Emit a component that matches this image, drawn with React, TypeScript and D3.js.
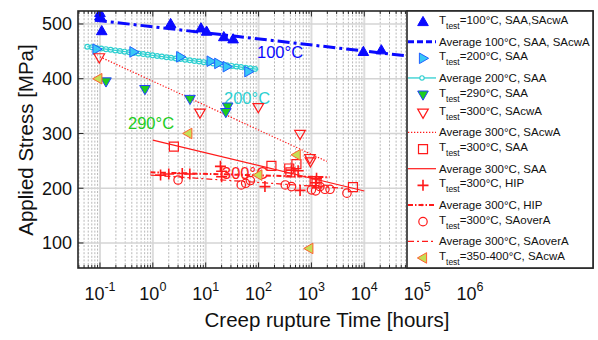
import React from 'react';
import * as d3 from 'd3';

const W = 598, H = 340;
const L = 78, R = 593, T = 11, B = 268;

// 100°C SAA, SAcwA
const t100 = [0.1, 0.1, 0.108, 2.17, 8.15, 10.4, 22, 33, 9600, 21000];
const s100 = [520, 514, 487, 500, 492, 486, 476, 472, 449, 452];
// 200°C SAA
const t200 = [0.086, 0.43, 3.3, 12.4, 17.3, 25, 64];
const s200 = [454, 449, 440, 432, 428, 422, 413];
// 290°C SAA
const t290 = [0.13, 0.71, 5.05, 26, 24];
const s290 = [395, 381, 363, 349, 339];
// 300°C SAcwA
const t300cw = [0.097, 7.8, 99, 608, 935, 960];
const s300cw = [439, 338, 348, 299, 255, 249];
// 300°C SAA
const t300saa = [2.5, 175, 380, 400, 520, 1150, 1250, 6100];
const s300saa = [276, 241, 236, 229, 244, 213, 209, 202];
// 300°C HIP
const t300hip = [1.4, 2.0, 3.6, 5, 19, 20, 20, 132, 420, 560, 610, 1250, 1200];
const s300hip = [224, 226, 227, 226, 240, 231, 221, 203, 233, 232, 196, 218, 210];
// 300°C SAoverA
const t300ov = [3.0, 47, 57, 70, 320, 420, 1000, 1200, 1450, 1800, 2250, 4700];
const s300ov = [215, 206, 209, 214, 206, 203, 197, 195, 203, 198, 198, 191];
// 350-400°C SAcwA
const t350 = [0.093, 4.68, 99, 525, 912];
const s350 = [400, 300, 224, 261, 90];

// average (fit) lines: endpoints
const avg100T = [0.08, 1e5], avg100S = [507, 439.5];
const avg200T = [0.0575, 99], avg200S = [458.5, 417];
const avgCwT = [0.1, 1950], avgCwS = [440, 249];
const avgSaaT = [1, 1e4], avgSaaS = [288, 195];
const avgHipT = [0.9, 2200], avgHipS = [229, 220];
const avgOvT = [0.9, 4000], avgOvS = [224, 200];

const yTicks = [100, 200, 300, 400, 500];
const xDecades = [-1, 0, 1, 2, 3, 4, 5, 6];

const legendLabels = [
  { kind: 'T', text: '=100°C, SAA,SAcwA' },
  { kind: 'A', text: 'Average 100°C, SAA, SAcwA' },
  { kind: 'T', text: '=200°C, SAA' },
  { kind: 'A', text: 'Average 200°C, SAA' },
  { kind: 'T', text: '=290°C, SAA' },
  { kind: 'T', text: '=300°C, SAcwA' },
  { kind: 'A', text: 'Average 300°C, SAcwA' },
  { kind: 'T', text: '=300°C, SAA' },
  { kind: 'A', text: 'Average 300°C, SAA' },
  { kind: 'T', text: '=300°C, HIP' },
  { kind: 'A', text: 'Average 300°C, HIP' },
  { kind: 'T', text: '=300°C, SAoverA' },
  { kind: 'A', text: 'Average 300°C, SAoverA' },
  { kind: 'T', text: '=350-400°C, SAcwA' },
];

const FONT = 'Liberation Sans, Arial, Helvetica, sans-serif';
const RED = '#ff1a1a';
const BLUE = '#0a0aff';
const CYAN = '#2ecfd0';

const x = d3.scaleLog().domain([0.0384, 2.12e8]).range([L, R]);
const y = d3.scaleLinear().domain([54.3, 523.7]).range([B, T]);

const triUp = 'M0,-5.6L5.3,3.6L-5.3,3.6Z';
const triDown = 'M0,5.6L5.3,-3.6L-5.3,-3.6Z';
const triRight = 'M5.6,0L-3.6,-5.3L-3.6,5.3Z';
const triLeft = 'M-5.6,0L3.6,-5.3L3.6,5.3Z';
const plusP = 'M-5.5,0H5.5M0,-5.5V5.5';
const squareP = 'M-4.5,-4.5H4.5V4.5H-4.5Z';

type MarkerStyle = { d?: string; circle?: number; fill: string; stroke: string; sw: number };
const styles: Record<string, MarkerStyle> = {
  m100: { d: triUp, fill: BLUE, stroke: BLUE, sw: 1 },
  m200: { d: triRight, fill: '#38c8f5', stroke: '#2060ff', sw: 1 },
  m290: { d: triDown, fill: '#1fcc1f', stroke: '#2040ff', sw: 1 },
  mCw: { d: triDown, fill: 'none', stroke: RED, sw: 1.2 },
  mSaa: { d: squareP, fill: 'none', stroke: RED, sw: 1.2 },
  mHip: { d: plusP, fill: 'none', stroke: RED, sw: 1.6 },
  mOv: { circle: 4.2, fill: 'none', stroke: RED, sw: 1.2 },
  m350: { d: triLeft, fill: '#c5de55', stroke: '#ff6030', sw: 1 },
};

function Marker({ cx, cy, st }: { cx: number; cy: number; st: MarkerStyle }) {
  if (st.circle) return <circle cx={cx} cy={cy} r={st.circle} fill={st.fill} stroke={st.stroke} strokeWidth={st.sw} />;
  return <path d={st.d} transform={`translate(${cx},${cy})`} fill={st.fill} stroke={st.stroke} strokeWidth={st.sw} />;
}

function Points({ ts, ss, st }: { ts: number[]; ss: number[]; st: MarkerStyle }) {
  return <g>{ts.map((t, i) => <Marker key={i} cx={x(t)} cy={y(ss[i])} st={st} />)}</g>;
}

const lineGen = d3.line<[number, number]>().x(d => x(d[0])).y(d => y(d[1]));
const mk = (ts: number[], ss: number[]) => lineGen(ts.map((t, i) => [t, ss[i]] as [number, number])) || '';

type LineStyle = { stroke: string; sw: number; dash?: string };
const lineStyles: Record<string, LineStyle> = {
  l100: { stroke: BLUE, sw: 3, dash: '12,4,3,4' },
  l200: { stroke: CYAN, sw: 1.3 },
  lCw: { stroke: RED, sw: 1.2, dash: '1.3,1.7' },
  lSaa: { stroke: RED, sw: 1.2 },
  lHip: { stroke: RED, sw: 2, dash: '5,2,1.5,2' },
  lOv: { stroke: RED, sw: 1.2, dash: '6,3,2,3' },
};

function CircleLine({ d, lw }: { d: string; lw: number }) {
  // line with small open-circle markers along it
  return (
    <g fill="none">
      <path d={d} stroke={CYAN} strokeWidth={6} strokeDasharray="0,4.7" strokeLinecap="round" />
      <path d={d} stroke="#ffffff" strokeWidth={3.6} strokeDasharray="0,4.7" strokeLinecap="round" />
      <path d={d} stroke={CYAN} strokeWidth={lw} />
    </g>
  );
}

export default function App() {
  const [d0, d1] = x.domain();
  const minor: number[] = [];
  const major: number[] = [];
  for (let n = -2; n <= 9; n++) {
    const p = Math.pow(10, n);
    if (p >= d0 && p <= d1) major.push(p);
    for (let k = 2; k <= 9; k++) {
      const v = k * p;
      if (v >= d0 && v <= d1) minor.push(v);
    }
  }

  const legendX = 407;
  const rowY = (i: number) => 22 + 18.15 * i;
  const legendMarkers = ['m100', null, 'm200', null, 'm290', 'mCw', null, 'mSaa', null, 'mHip', null, 'mOv', null, 'm350'];
  const legendLines = [null, 'l100', null, 'l200', null, null, 'lCw', null, 'lSaa', null, 'lHip', null, 'lOv', null];

  return (
    <svg width={W} height={H} style={{ position: 'absolute', left: 0, top: 0, background: '#fff' }} fontFamily={FONT}>
      <defs>
        <clipPath id="plotclip">
          <rect x={L} y={T} width={R - L} height={B - T} />
        </clipPath>
      </defs>
      <rect x={0} y={0} width={W} height={H} fill="#fff" />
      {/* grid */}
      <g>
        {minor.map((v, i) => (
          <line key={'mg' + i} x1={x(v)} x2={x(v)} y1={T} y2={B} stroke="#b8b8b8" strokeWidth={1} strokeDasharray="2,1.6" />
        ))}
        {major.map((v, i) => (
          <line key={'Mg' + i} x1={x(v)} x2={x(v)} y1={T} y2={B} stroke="#dcdcdc" strokeWidth={2} />
        ))}
        {yTicks.map(v => (
          <line key={'hg' + v} x1={L} x2={R} y1={y(v)} y2={y(v)} stroke="#d4d4d4" strokeWidth={1.6} />
        ))}
      </g>
      {/* labels in plot */}
      <g fontSize={16.5}>
        <text x={257} y={58} fill={BLUE}>100°C</text>
        <text x={224} y={104} fill={CYAN}>200°C</text>
        <text x={128} y={129} fill="#22cc22">290°C</text>
        <text x={222} y={179} fill={RED}>300°C</text>
      </g>
      {/* fit lines */}
      <g clipPath="url(#plotclip)" fill="none">
        <path d={mk(avg100T, avg100S)} stroke={lineStyles.l100.stroke} strokeWidth={lineStyles.l100.sw} strokeDasharray={lineStyles.l100.dash} />
        <CircleLine d={mk(avg200T, avg200S)} lw={lineStyles.l200.sw} />
        <path d={mk(avgCwT, avgCwS)} stroke={RED} strokeWidth={lineStyles.lCw.sw} strokeDasharray={lineStyles.lCw.dash} />
        <path d={mk(avgSaaT, avgSaaS)} stroke={RED} strokeWidth={lineStyles.lSaa.sw} />
        <path d={mk(avgHipT, avgHipS)} stroke={RED} strokeWidth={lineStyles.lHip.sw} strokeDasharray={lineStyles.lHip.dash} />
        <path d={mk(avgOvT, avgOvS)} stroke={RED} strokeWidth={lineStyles.lOv.sw} strokeDasharray={lineStyles.lOv.dash} />
      </g>
      {/* markers */}
      <g clipPath="url(#plotclip)">
        <Points ts={t100} ss={s100} st={styles.m100} />
        <Points ts={t200} ss={s200} st={styles.m200} />
        <Points ts={t290} ss={s290} st={styles.m290} />
        <Points ts={t300cw} ss={s300cw} st={styles.mCw} />
        <Points ts={t300saa} ss={s300saa} st={styles.mSaa} />
        <Points ts={t300hip} ss={s300hip} st={styles.mHip} />
        <Points ts={t300ov} ss={s300ov} st={styles.mOv} />
        <Points ts={t350} ss={s350} st={styles.m350} />
      </g>
      {/* ticks */}
      <g stroke="#262626" strokeWidth={1}>
        {minor.map((v, i) => (
          <g key={'mt' + i}>
            <line x1={x(v)} x2={x(v)} y1={B} y2={B - 3} />
            <line x1={x(v)} x2={x(v)} y1={T} y2={T + 3} />
          </g>
        ))}
        {major.map((v, i) => (
          <g key={'Mt' + i}>
            <line x1={x(v)} x2={x(v)} y1={B} y2={B - 5.5} />
            <line x1={x(v)} x2={x(v)} y1={T} y2={T + 5.5} />
          </g>
        ))}
        {yTicks.map(v => (
          <line key={'yt' + v} x1={L} x2={L + 5.5} y1={y(v)} y2={y(v)} />
        ))}
      </g>
      <rect x={L} y={T} width={R - L} height={B - T} fill="none" stroke="#262626" strokeWidth={1.6} />
      {/* tick labels */}
      <g fontSize={18} fill="#111">
        {yTicks.map(v => (
          <text key={'yl' + v} x={72} y={y(v) + 6.5} textAnchor="end">{v}</text>
        ))}
        {xDecades.map(n => (
          <text key={'xl' + n} x={x(Math.pow(10, n))} y={300} textAnchor="middle">
            10<tspan fontSize={12.5} dy={-9}>{n}</tspan>
          </text>
        ))}
      </g>
      {/* axis labels */}
      <text x={(L + 470) / 2 + 53} y={327} textAnchor="middle" fontSize={20.5} fill="#111">Creep rupture Time [hours]</text>
      <text transform={`translate(33,140) rotate(-90)`} textAnchor="middle" fontSize={20.5} fill="#111">Applied Stress [MPa]</text>
      {/* legend */}
      <g>
        <rect x={legendX} y={T} width={R - legendX} height={B - T} fill="#fff" stroke="#262626" strokeWidth={1.6} />
        {legendLabels.map((lab, i) => {
          const r = rowY(i);
          const mkey = legendMarkers[i];
          const lkey = legendLines[i];
          return (
            <g key={'lg' + i}>
              {mkey && <Marker cx={423} cy={r} st={styles[mkey]} />}
              {lkey && lkey !== 'l200' && (
                <line x1={408} x2={436} y1={r + 1.5} y2={r + 1.5} stroke={lineStyles[lkey].stroke}
                  strokeWidth={lkey === 'l100' ? 3 : lineStyles[lkey].sw}
                  strokeDasharray={lkey === 'l100' ? '6,3' : lineStyles[lkey].dash} />
              )}
              {lkey === 'l200' && (
                <g>
                  <line x1={408} x2={436} y1={r + 1.5} y2={r + 1.5} stroke={CYAN} strokeWidth={1.3} />
                  <circle cx={422} cy={r + 1.5} r={2.2} fill="#fff" stroke={CYAN} strokeWidth={1.1} />
                </g>
              )}
              {lkey === 'lHip' && <circle cx={422} cy={r + 1.5} r={1.2} fill={RED} />}
              {lab.kind === 'T' ? (
                <text x={439} y={r + 2} fontSize={11.5} fill="#111">
                  T<tspan fontSize={8.5} dy={5}>test</tspan><tspan dy={-5}>{lab.text}</tspan>
                </text>
              ) : (
                <text x={439} y={r + 5.5} fontSize={11.5} fill="#111">{lab.text}</text>
              )}
            </g>
          );
        })}
      </g>
    </svg>
  );
}
